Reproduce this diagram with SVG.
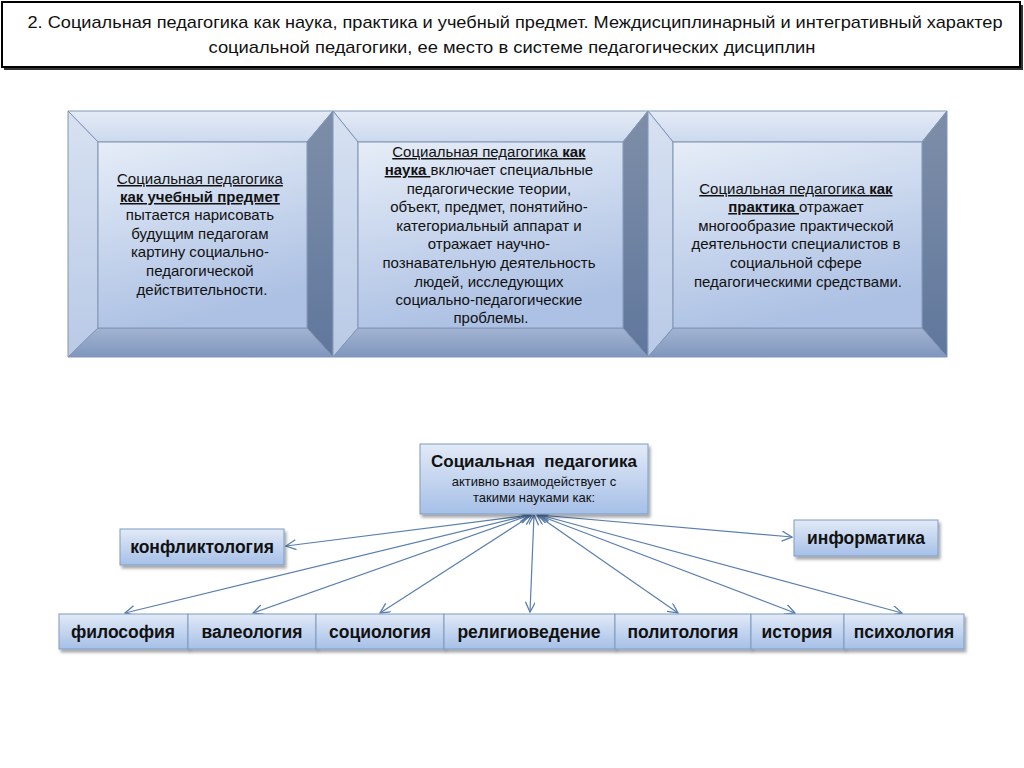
<svg xmlns="http://www.w3.org/2000/svg" width="1024" height="768" viewBox="0 0 1024 768">
<defs>
<linearGradient id="gInner" x1="0" y1="0" x2="0.3" y2="1">
<stop offset="0" stop-color="#e6edf7"/><stop offset="1" stop-color="#adc1e4"/>
</linearGradient>
<linearGradient id="gTop" x1="0" y1="0" x2="0" y2="1">
<stop offset="0" stop-color="#e4ebf6"/><stop offset="1" stop-color="#ccd9ee"/>
</linearGradient>
<linearGradient id="gLeft" x1="0" y1="0" x2="0" y2="1">
<stop offset="0" stop-color="#d7e1f1"/><stop offset="1" stop-color="#b9cae6"/>
</linearGradient>
<linearGradient id="gRight" x1="0" y1="0" x2="0" y2="1">
<stop offset="0" stop-color="#7e8ea8"/><stop offset="1" stop-color="#60779c"/>
</linearGradient>
<linearGradient id="gBottom" x1="0" y1="0" x2="0" y2="1">
<stop offset="0" stop-color="#a3b4d2"/><stop offset="1" stop-color="#7f96bd"/>
</linearGradient>
<linearGradient id="gNode" x1="0" y1="0" x2="0" y2="1">
<stop offset="0" stop-color="#e2eaf6"/><stop offset="1" stop-color="#a6c0e8"/>
</linearGradient>
<filter id="sh" x="-10%" y="-20%" width="120%" height="150%">
<feDropShadow dx="2" dy="3" stdDeviation="1.5" flood-color="#000" flood-opacity="0.35"/>
</filter>
<marker id="ah" markerUnits="userSpaceOnUse" markerWidth="14" markerHeight="12" refX="11" refY="5" orient="auto-start-reverse">
<path d="M1,0 L11,5 L1,10" fill="none" stroke="#5a7fae" stroke-width="1.3"/>
</marker>
<style>
.bev{stroke:#8195b5;stroke-width:1;stroke-linejoin:round}
.bt{font-family:"Liberation Sans",Arial,sans-serif;font-size:15px;fill:#111;text-anchor:middle}
.u{text-decoration:underline}
.b{font-weight:bold}
.node{fill:url(#gNode);stroke:#7f9cc4;stroke-width:1}
.nt{font-family:"Liberation Sans",Arial,sans-serif;font-size:17.5px;font-weight:bold;fill:#111;text-anchor:middle}
.conn{stroke:#5a7fae;stroke-width:1.2;fill:none;marker-start:url(#ah);marker-end:url(#ah)}
</style>
</defs>
<rect width="1024" height="768" fill="#fff"/>

<g id="title">
<rect x="4" y="5" width="1019" height="65" fill="#333"/>
<rect x="2" y="2" width="1018" height="65" fill="#fff" stroke="#000" stroke-width="2"/>
<text x="515" y="28" font-family="'Liberation Sans',Arial,sans-serif" font-size="17" text-anchor="middle" fill="#111" textLength="975" lengthAdjust="spacingAndGlyphs">2. Социальная педагогика как наука, практика и учебный предмет. Междисциплинарный и интегративный характер</text>
<text x="512" y="53" font-family="'Liberation Sans',Arial,sans-serif" font-size="17" text-anchor="middle" fill="#111" textLength="607" lengthAdjust="spacingAndGlyphs">социальной педагогики, ее место в системе педагогических дисциплин</text>
</g>

<g id="box-subject">
<polygon class="bev" fill="url(#gTop)" points="68,111 333,111 307,142 98,142"/>
<polygon class="bev" fill="url(#gLeft)" points="68,111 98,142 98,328 68,357"/>
<polygon class="bev" fill="url(#gRight)" points="333,111 333,357 307,328 307,142"/>
<polygon class="bev" fill="url(#gBottom)" points="68,357 98,328 307,328 333,357"/>
<rect class="bev" fill="url(#gInner)" x="98" y="142" width="209" height="186"/>
<text class="bt">
<tspan x="202" y="184" class="u">Социальная педагогика</tspan>
<tspan x="202" y="202" class="u b">как учебный предмет</tspan>
<tspan x="202" y="220">пытается нарисовать</tspan>
<tspan x="202" y="239">будущим педагогам</tspan>
<tspan x="202" y="257">картину социально-</tspan>
<tspan x="202" y="276">педагогической</tspan>
<tspan x="202" y="295">действительности.</tspan>
</text>
</g>

<g id="box-science">
<polygon class="bev" fill="url(#gTop)" points="333,111 648,111 623,142 358,142"/>
<polygon class="bev" fill="url(#gLeft)" points="333,111 358,142 358,328 333,357"/>
<polygon class="bev" fill="url(#gRight)" points="648,111 648,357 623,328 623,142"/>
<polygon class="bev" fill="url(#gBottom)" points="333,357 358,328 623,328 648,357"/>
<rect class="bev" fill="url(#gInner)" x="358" y="142" width="265" height="186"/>
<text class="bt">
<tspan x="491" y="157"><tspan class="u">Социальная педагогика </tspan><tspan class="u b">как</tspan></tspan>
<tspan x="491" y="175"><tspan class="u b">наука </tspan>включает специальные</tspan>
<tspan x="491" y="194">педагогические теории,</tspan>
<tspan x="491" y="212">объект, предмет, понятийно-</tspan>
<tspan x="491" y="231">категориальный аппарат и</tspan>
<tspan x="491" y="249">отражает научно-</tspan>
<tspan x="491" y="268">познавательную деятельность</tspan>
<tspan x="491" y="287">людей, исследующих</tspan>
<tspan x="491" y="305">социально-педагогические</tspan>
<tspan x="491" y="323">проблемы.</tspan>
</text>
</g>

<g id="box-practice">
<polygon class="bev" fill="url(#gTop)" points="648,111 947,111 922,142 673,142"/>
<polygon class="bev" fill="url(#gLeft)" points="648,111 673,142 673,328 648,357"/>
<polygon class="bev" fill="url(#gRight)" points="947,111 947,357 922,328 922,142"/>
<polygon class="bev" fill="url(#gBottom)" points="648,357 673,328 922,328 947,357"/>
<rect class="bev" fill="url(#gInner)" x="673" y="142" width="249" height="186"/>
<text class="bt">
<tspan x="798" y="194"><tspan class="u">Социальная педагогика </tspan><tspan class="u b">как</tspan></tspan>
<tspan x="798" y="212"><tspan class="u b">практика </tspan>отражает</tspan>
<tspan x="798" y="231">многообразие практической</tspan>
<tspan x="798" y="249">деятельности специалистов в</tspan>
<tspan x="798" y="268">социальной сфере</tspan>
<tspan x="798" y="287">педагогическими средствами.</tspan>
</text>
</g>

<g id="connectors">
<line class="conn" x1="530" y1="515" x2="286" y2="546"/>
<line class="conn" x1="539" y1="515" x2="792" y2="537"/>
<line class="conn" x1="529" y1="515" x2="125" y2="613"/>
<line class="conn" x1="530" y1="515" x2="253" y2="613"/>
<line class="conn" x1="532" y1="515" x2="380" y2="613"/>
<line class="conn" x1="534" y1="515" x2="530" y2="612"/>
<line class="conn" x1="537" y1="515" x2="678" y2="613"/>
<line class="conn" x1="538" y1="515" x2="795" y2="613"/>
<line class="conn" x1="540" y1="515" x2="902" y2="613"/>
</g>

<g id="center">
<rect class="node" filter="url(#sh)" x="420" y="444" width="228" height="70"/>
<text x="534" y="467" class="nt" style="font-size:17px;white-space:pre">Социальная  педагогика</text>
<text x="534" y="486" font-family="'Liberation Sans',Arial,sans-serif" font-size="13" text-anchor="middle" fill="#111">активно взаимодействует с</text>
<text x="534" y="502" font-family="'Liberation Sans',Arial,sans-serif" font-size="13" text-anchor="middle" fill="#111">такими науками как:</text>
</g>

<g id="n-konflikt">
<rect class="node" filter="url(#sh)" x="120" y="529" width="164" height="36"/>
<text class="nt" x="202" y="553">конфликтология</text>
</g>
<g id="n-inform">
<rect class="node" filter="url(#sh)" x="794" y="520" width="144" height="36"/>
<text class="nt" x="866" y="544">информатика</text>
</g>
<g id="n-filos">
<rect class="node" filter="url(#sh)" x="59" y="614" width="129" height="35"/>
<text class="nt" x="123" y="638">философия</text>
</g>
<g id="n-valeo">
<rect class="node" filter="url(#sh)" x="188" y="614" width="128" height="35"/>
<text class="nt" x="252" y="638">валеология</text>
</g>
<g id="n-socio">
<rect class="node" filter="url(#sh)" x="316" y="614" width="128" height="35"/>
<text class="nt" x="380" y="638">социология</text>
</g>
<g id="n-relig">
<rect class="node" filter="url(#sh)" x="444" y="614" width="171" height="35"/>
<text class="nt" x="529" y="638">религиоведение</text>
</g>
<g id="n-polit">
<rect class="node" filter="url(#sh)" x="615" y="614" width="136" height="35"/>
<text class="nt" x="683" y="638">политология</text>
</g>
<g id="n-istor">
<rect class="node" filter="url(#sh)" x="751" y="614" width="93" height="35"/>
<text class="nt" x="797" y="638">история</text>
</g>
<g id="n-psych">
<rect class="node" filter="url(#sh)" x="844" y="614" width="120" height="35"/>
<text class="nt" x="904" y="638">психология</text>
</g>
</svg>
